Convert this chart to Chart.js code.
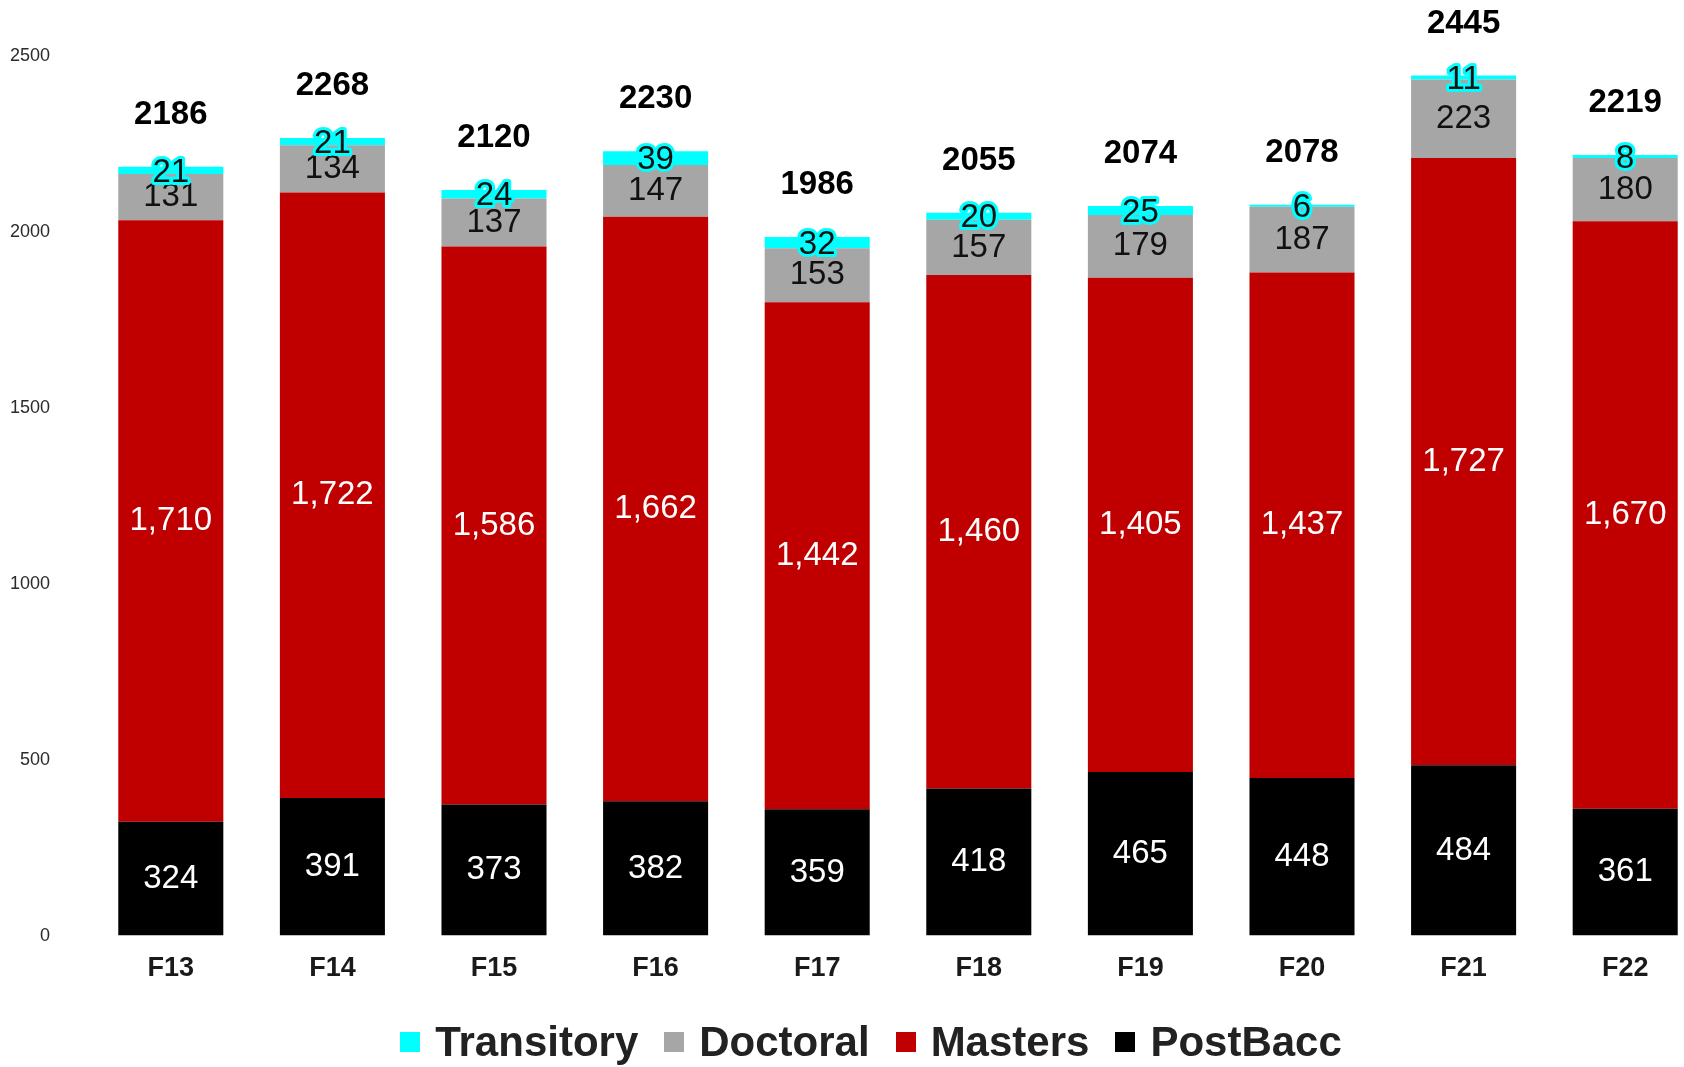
<!DOCTYPE html>
<html>
<head>
<meta charset="utf-8">
<title>Enrollment by level</title>
<script src="https://cdn.jsdelivr.net/npm/chart.js@4/dist/chart.umd.min.js"></script>
<style>
  html, body { margin: 0; padding: 0; background: #fff; overflow: hidden; }
  #wrap { position: relative; width: 1684px; height: 1067px; overflow: hidden; }
  #chart-box { position: absolute; left: 0; top: 0; width: 1706px; height: 1067px; }
  #legend {
    position: absolute; left: 0; width: 1742px; top: 1018px;
    display: flex; justify-content: center; align-items: center;
    font: bold 42px "Liberation Sans", Arial, sans-serif; color: #222;
  }
  #legend .item { display: flex; align-items: center; margin: 0 13px; }
  #legend .box { width: 20px; height: 20px; margin-right: 15px; }
</style>
</head>
<body>
<div id="wrap">
  <div id="chart-box"><canvas id="chart"></canvas></div>
  <div id="legend"></div>
</div>
<script>
/* ---------- data ---------- */
const years      = ['F13', 'F14', 'F15', 'F16', 'F17', 'F18', 'F19', 'F20', 'F21', 'F22'];
const postBacc   = [324, 391, 373, 382, 359, 418, 465, 448, 484, 361];
const masters    = [1710, 1722, 1586, 1662, 1442, 1460, 1405, 1437, 1727, 1670];
const doctoral   = [131, 134, 137, 147, 153, 157, 179, 187, 223, 180];
const transitory = [21, 21, 24, 39, 32, 20, 25, 6, 11, 8];
const yTicks     = [0, 500, 1000, 1500, 2000, 2500];

// legend order (top of stack first)
const legendOrder = ['Transitory', 'Doctoral', 'Masters', 'PostBacc'];

const COLORS = {
  PostBacc:   '#000000',
  Masters:    '#C00000',
  Doctoral:   '#A6A6A6',
  Transitory: '#00FFFF'
};
const LABEL_COLORS = {
  PostBacc:   '#ffffff',
  Masters:    '#ffffff',
  Doctoral:   '#111111',
  Transitory: '#111111'
};

const FONT = '"Liberation Sans", Arial, sans-serif';

/* ---------- plugin: labels inside segments + totals ---------- */
const segmentLabels = {
  id: 'segmentLabels',
  afterDatasetsDraw(chart) {
    const ctx = chart.ctx;
    ctx.save();
    ctx.textAlign = 'center';
    ctx.textBaseline = 'middle';

    chart.data.datasets.forEach((ds, di) => {
      const meta = chart.getDatasetMeta(di);
      meta.data.forEach((bar, i) => {
        const v = ds.data[i];
        const y = (bar.y + bar.base) / 2;
        const txt = v.toLocaleString('en-US');
        ctx.font = '33px ' + FONT;
        if (ds.label === 'Transitory') {
          ctx.lineWidth = 6;
          ctx.lineJoin = 'round';
          ctx.strokeStyle = COLORS.Transitory;
          ctx.strokeText(txt, bar.x, y + 2);
        }
        ctx.fillStyle = LABEL_COLORS[ds.label];
        ctx.fillText(txt, bar.x, ds.label === 'Transitory' ? y + 2 : y);
      });
    });

    // totals above each stack
    const topMeta = chart.getDatasetMeta(chart.data.datasets.length - 1);
    ctx.font = 'bold 33px ' + FONT;
    ctx.fillStyle = '#000';
    years.forEach((_, i) => {
      const total = postBacc[i] + masters[i] + doctoral[i] + transitory[i];
      const bar = topMeta.data[i];
      ctx.fillText(String(total), bar.x, bar.y - 52);
    });
    ctx.restore();
  }
};

/* ---------- chart ---------- */
const series = { PostBacc: postBacc, Masters: masters, Doctoral: doctoral, Transitory: transitory };

const datasets = ['PostBacc', 'Masters', 'Doctoral', 'Transitory'].map(name => ({
  label: name,
  data: series[name],
  backgroundColor: COLORS[name],
  borderWidth: 0,
  barPercentage: 0.65,
  categoryPercentage: 1.0
}));

new Chart(document.getElementById('chart'), {
  type: 'bar',
  data: { labels: years, datasets },
  options: {
    responsive: true,
    maintainAspectRatio: false,
    animation: false,
    layout: { padding: { left: 0, right: 0, top: 0, bottom: 65 } },
    plugins: {
      legend: { display: false },
      tooltip: { enabled: false }
    },
    scales: {
      x: {
        stacked: true,
        grid: { display: false, drawTicks: false },
        border: { display: false },
        ticks: {
          padding: 17,
          color: '#1a1a1a',
          font: { family: FONT, size: 27, weight: 'bold' }
        }
      },
      y: {
        stacked: true,
        min: 0,
        max: 2660,
        grid: { display: false, drawTicks: true, tickLength: 40 },
        border: { display: false },
        afterFit(scale) {
          scale.width = 90;
          scale.paddingTop = 0;
          scale.paddingBottom = 0;
        },
        afterBuildTicks(scale) { scale.ticks = yTicks.map(v => ({ value: v })); },
        ticks: {
          padding: 0,
          color: '#2a2a2a',
          font: { family: FONT, size: 18 },
          callback: v => String(v)
        }
      }
    }
  },
  plugins: [segmentLabels]
});

/* ---------- legend ---------- */
const legendEl = document.getElementById('legend');
legendOrder.forEach(name => {
  const item = document.createElement('div');
  item.className = 'item';
  item.innerHTML = `<span class="box" style="background:${COLORS[name]}"></span><span>${name}</span>`;
  legendEl.appendChild(item);
});
</script>
</body>
</html>
